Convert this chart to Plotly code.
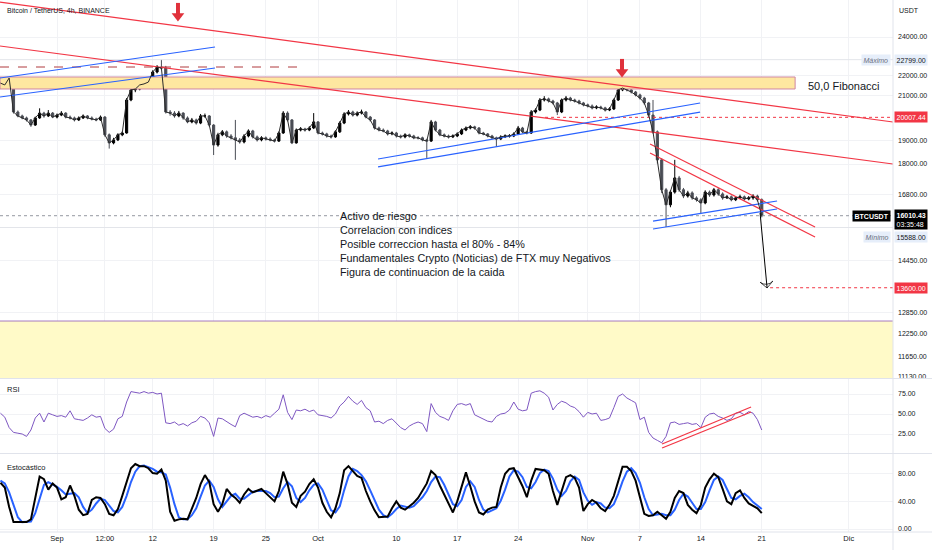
import numpy as np
import pandas as pd
import plotly.graph_objects as go

# ---------------- data (12h candles) ----------------
candle_start = "2022-08-25 12:00"

opens = [21550, 21620, 21530, 21870, 20250, 20070, 19980, 19890, 19660, 19980,
         20200, 20070, 20200, 20020, 20110, 20200, 20020, 19980, 19890, 19980,
         20070, 19980, 19930, 19890, 20020, 19230, 18880, 19010, 19230, 19310,
         20810, 21290, 21330, 21530, 21580, 21670, 22170, 22420, 22370, 20250,
         20200, 20070, 20200, 19980, 19800, 19890, 19750, 20070, 20070, 19660,
         18790, 19230, 19360, 19180, 19100, 19010, 18920, 19180, 19400, 19140,
         19010, 19100, 19050, 19010, 18960, 19310, 20200, 19890, 18880, 19440,
         19490, 19440, 19530, 19800, 19310, 19270, 19180, 19140, 19360, 19750,
         20160, 20250, 20110, 20200, 20250, 20020, 19890, 19530, 19440, 19400,
         19270, 19310, 19180, 19140, 19230, 19180, 19100, 19100, 19010, 18960,
         19800, 19440, 19230, 19180, 19140, 19180, 19270, 19440, 19530, 19580,
         19530, 19310, 19270, 19180, 19100, 19050, 19140, 19180, 19180, 19270,
         19530, 19360, 19310, 20250, 20340, 20810, 20860, 20760, 20670, 20250,
         20810, 20900, 20810, 20760, 20670, 20580, 20530, 20440, 20480, 20440,
         20340, 20390, 20810, 21290, 21380, 21290, 21190, 21050, 20900, 20670,
         20110, 19360, 18170, 16980, 16410, 16890, 17440, 16980, 16740, 16860,
         16670, 16600, 16480, 16890, 16780, 16980, 16820, 16670, 16710, 16600,
         16670, 16710, 16630, 16670, 16740, 16600]

closes = [21620, 21530, 21870, 20250, 20070, 19980, 19890, 19660, 19980, 20200,
          20070, 20200, 20020, 20110, 20200, 20020, 19980, 19890, 19980, 20070,
          19980, 19930, 19890, 20020, 19230, 18880, 19010, 19230, 19310, 20810,
          21290, 21330, 21530, 21580, 21670, 22170, 22420, 22370, 20250, 20200,
          20070, 20200, 19980, 19800, 19890, 19750, 20070, 20070, 19660, 18790,
          19230, 19360, 19180, 19100, 19010, 18920, 19180, 19400, 19140, 19010,
          19100, 19050, 19010, 18960, 19310, 20200, 19890, 18880, 19440, 19490,
          19440, 19530, 19800, 19310, 19270, 19180, 19140, 19360, 19750, 20160,
          20250, 20110, 20200, 20250, 20020, 19890, 19530, 19440, 19400, 19270,
          19310, 19180, 19140, 19230, 19180, 19100, 19100, 19010, 18960, 19800,
          19440, 19230, 19180, 19140, 19180, 19270, 19440, 19530, 19580, 19530,
          19310, 19270, 19180, 19100, 19050, 19140, 19180, 19180, 19270, 19530,
          19360, 19310, 20250, 20340, 20810, 20860, 20760, 20670, 20250, 20810,
          20900, 20810, 20760, 20670, 20580, 20530, 20440, 20480, 20440, 20340,
          20390, 20810, 21290, 21380, 21290, 21190, 21050, 20900, 20670, 20110,
          19360, 18170, 16980, 16410, 16890, 17440, 16980, 16740, 16860, 16670,
          16600, 16480, 16890, 16780, 16980, 16820, 16670, 16710, 16600, 16670,
          16710, 16630, 16670, 16740, 16600, 16010]

highs = [21700, 21680, 21920, 21880, 20320, 20130, 20040, 19930, 20040, 20420,
         20260, 20340, 20250, 20180, 20290, 20240, 20090, 20040, 20050, 20140,
         20110, 20050, 19990, 20090, 20060, 19290, 19100, 19300, 19380, 20900,
         21380, 21450, 21620, 21680, 21760, 22260, 22520, 22799, 22480, 20340,
         20290, 20300, 20240, 20050, 19980, 19950, 20160, 20180, 20110, 19700,
         19320, 19440, 19420, 19260, 19890, 19090, 19260, 19470, 19450, 19200,
         19170, 19160, 19120, 19060, 19380, 20290, 20280, 19930, 19510, 19570,
         19540, 19610, 20200, 19840, 19370, 19320, 19240, 19430, 19830, 20240,
         20340, 20310, 20280, 20360, 20290, 20070, 19930, 19590, 19510, 19450,
         19380, 19360, 19240, 19300, 19280, 19230, 19170, 19150, 19060, 19890,
         19850, 19490, 19290, 19240, 19250, 19340, 19510, 19600, 19660, 19630,
         19570, 19360, 19310, 19230, 19150, 19210, 19250, 19260, 19340, 19620,
         19580, 19410, 20340, 20420, 20900, 20990, 20920, 20820, 20720, 20880,
         21000, 20960, 20870, 20820, 20720, 20640, 20600, 20560, 20540, 20490,
         20470, 20880, 21370, 21480, 21440, 21340, 21240, 21110, 20960, 20720,
         20810, 19420, 18240, 17050, 16960, 18170, 17520, 17050, 16940, 16920,
         16730, 16660, 16960, 16950, 17050, 17040, 16880, 16780, 16760, 16740,
         16790, 16760, 16740, 16810, 16790, 16650]

lows = [21480, 21460, 21500, 20180, 20010, 19920, 19820, 19580, 19620, 19940,
        19990, 20020, 19970, 19960, 20060, 19960, 19910, 19820, 19840, 19930,
        19920, 19870, 19830, 19850, 19150, 18640, 18820, 18960, 19170, 19280,
        20750, 21180, 21270, 21440, 21500, 21620, 22100, 22280, 20180, 20080,
        19990, 20010, 19900, 19740, 19740, 19680, 19700, 19990, 19590, 18370,
        18720, 19170, 19100, 19030, 18170, 18850, 18860, 19120, 19070, 18940,
        18950, 18980, 18950, 18900, 18920, 19270, 19820, 18830, 18850, 19380,
        19370, 19390, 19480, 19250, 19200, 19110, 19070, 19100, 19310, 19700,
        20090, 20040, 20050, 20140, 19960, 19820, 19460, 19380, 19340, 19200,
        19210, 19110, 19070, 19080, 19110, 19040, 19030, 18950, 18250, 18920,
        19380, 19170, 19120, 19070, 19090, 19130, 19220, 19390, 19470, 19460,
        19250, 19210, 19120, 19040, 18710, 19000, 19090, 19110, 19130, 19230,
        19300, 19250, 19270, 20180, 20290, 20740, 20690, 20600, 20110, 20200,
        20740, 20740, 20690, 20600, 20510, 20460, 20370, 20380, 20370, 20270,
        20290, 20340, 20760, 21230, 21220, 21120, 20980, 20830, 20590, 20030,
        19280, 18020, 16850, 15588, 16320, 16830, 16900, 16660, 16680, 16600,
        16530, 16110, 16430, 16710, 16720, 16750, 16600, 16630, 16540, 16550,
        16620, 16570, 16580, 16600, 16530, 15950]

rsi = [51, 46, 33, 27, 26, 25, 22, 30, 45, 51,
       40, 51, 49, 47, 48, 46, 54, 44, 43, 42,
       45, 49, 46, 47, 32, 27, 31, 44, 47, 65,
       78, 77, 76, 78, 76, 77, 75, 76, 39, 38,
       40, 36, 38, 35, 39, 41, 47, 45, 39, 22,
       45, 44, 40, 37, 34, 48, 51, 48, 46, 47,
       45, 48, 46, 51, 56, 74, 52, 43, 55, 54,
       56, 53, 55, 49, 48, 47, 45, 50, 60, 65,
       72, 66, 62, 67, 58, 54, 40, 41, 38, 42,
       44, 39, 33, 30, 35, 38, 40, 38, 28, 63,
       52, 47, 45, 42, 54, 62, 63, 61, 63, 49,
       46, 43, 41, 40, 47, 50, 51, 55, 65, 56,
       54, 55, 76, 78, 79, 76, 71, 55, 62, 66,
       64, 60, 58, 53, 46, 52, 50, 51, 42, 43,
       45, 58, 72, 75, 70, 67, 64, 43, 46, 27,
       20, 17, 14, 22, 39, 40, 37, 38, 39, 37,
       38, 33, 46, 50, 51, 47, 45, 42, 44, 51,
       52, 49, 53, 51, 43, 30]

stoch_k = [67, 60, 32, 10, 10, 10, 10, 14, 45, 76,
           72, 57, 66, 60, 43, 46, 63, 48, 28, 20,
           22, 42, 46, 45, 36, 22, 20, 29, 48, 68,
           88, 94, 91, 91, 88, 81, 80, 86, 70, 25,
           12, 14, 15, 14, 30, 45, 65, 78, 68, 36,
           25, 36, 58, 50, 45, 38, 50, 58, 53, 55,
           58, 52, 46, 40, 55, 83, 65, 38, 32, 48,
           54, 65, 72, 60, 38, 25, 17, 30, 52, 85,
           91, 84, 77, 74, 55, 40, 27, 17, 17, 18,
           30, 40, 31, 28, 33, 38, 45, 55, 66, 84,
           78, 63, 50, 35, 24, 40, 62, 82, 62, 40,
           24, 21, 28, 31, 32, 60, 80, 87, 88, 75,
           62, 46, 70, 87, 86, 85, 80, 55, 35, 55,
           75, 78, 74, 60, 26, 36, 42, 38, 30, 26,
           35, 48, 70, 90, 90, 84, 70, 46, 22, 19,
           20, 25, 20, 15, 25, 45, 55, 52, 35, 28,
           23, 35, 60, 72, 80, 75, 58, 40, 36, 52,
           56, 45, 37, 34, 30, 23]

stoch_d = [70, 66, 53, 34, 17, 10, 10, 11, 23, 45,
           64, 68, 65, 61, 56, 50, 51, 52, 46, 32,
           23, 28, 37, 44, 42, 34, 26, 24, 32, 48,
           68, 83, 91, 92, 90, 87, 83, 82, 79, 60,
           36, 17, 14, 14, 20, 30, 47, 63, 70, 61,
           43, 32, 40, 48, 51, 44, 44, 49, 54, 55,
           55, 55, 52, 46, 47, 59, 68, 62, 45, 39,
           45, 56, 64, 66, 57, 41, 27, 24, 33, 56,
           76, 87, 84, 78, 69, 56, 41, 28, 20, 17,
           22, 29, 34, 33, 31, 33, 39, 46, 55, 68,
           76, 75, 64, 49, 36, 33, 42, 61, 69, 61,
           42, 28, 24, 27, 30, 41, 57, 76, 85, 83,
           75, 61, 59, 68, 81, 86, 84, 73, 57, 48,
           55, 69, 76, 71, 53, 41, 35, 39, 37, 31,
           30, 36, 51, 69, 83, 88, 81, 67, 46, 29,
           20, 21, 22, 20, 20, 28, 42, 51, 47, 38,
           29, 29, 39, 56, 71, 76, 71, 58, 45, 43,
           48, 51, 46, 39, 34, 29]

# drawings (date, price)
view_start, view_end = "2022-08-25 10:45", "2022-12-06 02:00"
red_a_prices = [25980, 19796]
red_b_prices = [23516, 18000]
tri_dates = ["2022-11-08 03:50", "2022-11-27 03:00"]
red_c_prices = [18835, 15605]
red_d_prices = [18454, 15257]
blue_a_dates = ["2022-08-25 10:45", "2022-09-19 03:50"]
blue_a1_prices = [21871, 23462]
blue_a2_prices = [20950, 22373]
blue_b_dates = ["2022-10-07 21:30", "2022-11-13 21:50"]
blue_b1_prices = [18204, 20667]
blue_b2_prices = [17882, 20248]
blue_c_dates = ["2022-11-08 12:00", "2022-11-22 18:15"]
blue_c1_prices = [15818, 16553]
blue_c2_prices = [15535, 16255]
rsi_line_dates = ["2022-11-09 13:00", "2022-11-19 18:30"]
rsi_line1 = [12.5, 58.75]
rsi_line2 = [7.5, 52.5]
fib_box_dates = ["2022-08-25 10:45", "2022-11-24 20:00"]
fib_box_prices = [21334, 21922]
zone_prices = [11000, 12612]
max_price, min_price, last_price = 22799.00, 15588.00, 16010.43
level_20007, level_13600, level_22423 = 20007.44, 13600.00, 22423
level_20007_start, level_13600_start, level_22423_end = "2022-10-27 02:10", "2022-11-21 23:00", "2022-09-28 22:20"
arrow_dates = ["2022-11-20 19:20", "2022-11-21 14:40"]
arrow_prices = [16114, 13592]
mark_dates = ["2022-09-14 21:40", "2022-11-04 22:30"]
mark_shaft_prices = [25600, 22550]
mark_head_prices = [25169, 22171]
note_lines = ["Activo de riesgo", "Correlacion con indices", "Posible correccion hasta el 80% - 84%",
              "Fundamentales Crypto (Noticias) de FTX muy Negativos", "Figura de continuacion de la caida"]
note_date, note_price = "2022-10-03 07:00", 16300
fib_label_date, fib_label_price = "2022-11-26 02:00", 21479

price_ticks = [24000, 22000, 21000, 19000, 18000, 16800, 14450, 12850, 12250, 11650, 11130]
rsi_ticks = [25, 50, 75]
stoch_ticks = [0, 40, 80]
x_tickvals = ["2022-09-01", "2022-09-06 12:00", "2022-09-12", "2022-09-19", "2022-09-25", "2022-10-01",
              "2022-10-10", "2022-10-17", "2022-10-24", "2022-11-01", "2022-11-07", "2022-11-14",
              "2022-11-21", "2022-12-01"]
x_ticktext = ["Sep", "12:00", "12", "19", "25", "Oct", "10", "17", "24", "Nov", "7", "14", "21", "Dic"]

# ---------------- figure ----------------
dates = pd.date_range(candle_start, periods=len(closes), freq="12h")
RED, BLUE, TXT = "#f23645", "#2962ff", "#131722"
FONT = "Liberation Sans"

fig = go.Figure()

# zones
fig.add_trace(go.Scatter(x=[view_start, view_end, view_end, view_start, view_start],
                         y=[zone_prices[0], zone_prices[0], zone_prices[1], zone_prices[1], zone_prices[0]],
                         fill="toself", fillcolor="#fffac8", line=dict(width=0),
                         mode="lines", hoverinfo="skip"))
fig.add_trace(go.Scatter(x=[view_start, view_end], y=[zone_prices[1], zone_prices[1]], mode="lines",
                         line=dict(color="#a77bc0", width=1), hoverinfo="skip"))
fig.add_trace(go.Scatter(x=[fib_box_dates[0], fib_box_dates[1], fib_box_dates[1], fib_box_dates[0], fib_box_dates[0]],
                         y=[fib_box_prices[0], fib_box_prices[0], fib_box_prices[1], fib_box_prices[1], fib_box_prices[0]],
                         fill="toself", fillcolor="#fee7a0", line=dict(color="#cf86a3", width=1),
                         mode="lines", hoverinfo="skip"))

def hline(x0, x1, y, color, dash="solid", width=1):
    fig.add_trace(go.Scatter(x=[x0, x1], y=[y, y], mode="lines",
                             line=dict(color=color, dash=dash, width=width), hoverinfo="skip"))

hline(view_start, view_end, max_price, "#e3e5ea")
hline(view_start, view_end, min_price, "#e3e5ea")
hline(view_start, view_end, last_price, "#9598a1", "dot")
hline(level_20007_start, view_end, level_20007, RED, "dot")
hline(level_13600_start, view_end, level_13600, RED, "dot")
hline(view_start, level_22423_end, level_22423, "#b03a3f", "dash")

def seg(xs, ys, color, yaxis="y", width=1.2):
    fig.add_trace(go.Scatter(x=xs, y=ys, mode="lines", line=dict(color=color, width=width),
                             yaxis=yaxis, hoverinfo="skip"))

seg([view_start, view_end], red_a_prices, RED)
seg([view_start, view_end], red_b_prices, RED)
seg(tri_dates, red_c_prices, RED)
seg(tri_dates, red_d_prices, RED)
seg(blue_a_dates, blue_a1_prices, BLUE)
seg(blue_a_dates, blue_a2_prices, BLUE)
seg(blue_b_dates, blue_b1_prices, BLUE)
seg(blue_b_dates, blue_b2_prices, BLUE)
seg(blue_c_dates, blue_c1_prices, BLUE)
seg(blue_c_dates, blue_c2_prices, BLUE)

# candles (with thin close path so the dense 4h look is kept)
fig.add_trace(go.Scatter(x=dates, y=closes, mode="lines", line=dict(color="#2b2b2b", width=1),
                         hoverinfo="skip"))
fig.add_trace(go.Candlestick(x=dates, open=opens, high=highs, low=lows, close=closes,
                             increasing=dict(line=dict(color="#000000", width=1), fillcolor="#000000"),
                             decreasing=dict(line=dict(color="#4a4d55", width=1), fillcolor="#4a4d55"),
                             whiskerwidth=0, hoverinfo="skip"))

# black projection arrow
fig.add_trace(go.Scatter(x=arrow_dates, y=arrow_prices, mode="lines+markers",
                         line=dict(color="#000000", width=1),
                         marker=dict(symbol="arrow-wide-open", size=[0, 9], angleref="previous",
                                     color="#000000", line=dict(color="#000000", width=1)),
                         hoverinfo="skip"))
# red marker arrows
fig.add_trace(go.Scatter(x=mark_dates, y=mark_shaft_prices, mode="markers",
                         marker=dict(symbol="line-ns", size=8, line=dict(color="#e0313b", width=4)),
                         hoverinfo="skip"))
fig.add_trace(go.Scatter(x=mark_dates, y=mark_head_prices, mode="markers",
                         marker=dict(symbol="triangle-down", size=11, color="#e0313b"),
                         hoverinfo="skip"))

# RSI
fig.add_trace(go.Scatter(x=dates, y=rsi, mode="lines", line=dict(color="#7e57c2", width=1),
                         yaxis="y2", hoverinfo="skip"))
seg(rsi_line_dates, rsi_line1, RED, "y2", 1.3)
seg(rsi_line_dates, rsi_line2, RED, "y2", 1.3)

# Stochastic
fig.add_trace(go.Scatter(x=dates, y=stoch_d, mode="lines", line=dict(color=BLUE, width=2),
                         yaxis="y3", hoverinfo="skip"))
fig.add_trace(go.Scatter(x=dates, y=stoch_k, mode="lines", line=dict(color="#000000", width=2),
                         yaxis="y3", hoverinfo="skip"))

# ---------------- layout ----------------
PH = 532.0  # plot height in px
def py(px):
    return (PH - px) / PH

tickfont = dict(family=FONT, size=7, color=TXT)
grid = "#f1f2f5"

annotations = []
def tag(price, text, bg, fg, yshift=0, yanchor="middle"):
    annotations.append(dict(xref="paper", x=1, xanchor="left", xshift=1, yref="y",
                            y=np.log10(price), yanchor=yanchor, yshift=yshift, text=text,
                            showarrow=False, bgcolor=bg, borderpad=1.5,
                            font=dict(family=FONT, size=7, color=fg), align="left"))

tag(max_price, f"{max_price:.2f}", "#e6eefa", TXT)
tag(level_20007, f"{level_20007:.2f}", RED, "#ffffff")
tag(last_price, f"<b>{last_price:.2f}</b><br>03:35:48", "#000000", "#ffffff", yshift=7, yanchor="top")
tag(min_price, f"{min_price:.2f}", "#e6eefa", TXT, yshift=-9)
tag(level_13600, f"{level_13600:.2f}", RED, "#ffffff")

def side_label(price, text, bg, fg, yshift=0):
    annotations.append(dict(xref="paper", x=891 / 893, xanchor="right", yref="y",
                            y=np.log10(price), yanchor="middle", yshift=yshift, text=text,
                            showarrow=False, bgcolor=bg, borderpad=1.5,
                            font=dict(family=FONT, size=7, color=fg)))

side_label(max_price, "<i>Máximo</i>", "#e6eefa", "#6b7080")
side_label(last_price, "<b>BTCUSDT</b>", "#000000", "#ffffff")
side_label(min_price, "<i>Mínimo</i>", "#e6eefa", "#6b7080", yshift=-9)

annotations += [
    dict(xref="paper", x=5 / 893, xanchor="left", yref="paper", y=py(10), yanchor="middle",
         text="Bitcoin / TetherUS, 4h, BINANCE", showarrow=False,
         font=dict(family=FONT, size=7, color=TXT)),
    dict(xref="paper", x=1, xanchor="left", xshift=4, yref="paper", y=py(10), yanchor="middle",
         text="USDT", showarrow=False, font=dict(family=FONT, size=7, color=TXT)),
    dict(xref="paper", x=5 / 893, xanchor="left", yref="paper", y=py(390), yanchor="middle",
         text="RSI", showarrow=False, font=dict(family=FONT, size=7.5, color=TXT)),
    dict(xref="paper", x=5 / 893, xanchor="left", yref="paper", y=py(467), yanchor="middle",
         text="Estocástico", showarrow=False, font=dict(family=FONT, size=7.5, color=TXT)),
    dict(xref="x", x=note_date, xanchor="left", yref="y", y=np.log10(note_price), yanchor="top",
         text="<br>".join(note_lines), showarrow=False, align="left",
         font=dict(family=FONT, size=10.8, color=TXT)),
    dict(xref="x", x=fib_label_date, xanchor="left", yref="y", y=np.log10(fib_label_price),
         yanchor="middle", text="50,0 Fibonacci", showarrow=False,
         font=dict(family=FONT, size=11, color=TXT)),
]

sep = "#e0e3eb"
shapes = [
    dict(type="line", xref="paper", yref="paper", x0=0, x1=932 / 893, y0=py(378.5), y1=py(378.5),
         line=dict(color=sep, width=1)),
    dict(type="line", xref="paper", yref="paper", x0=0, x1=932 / 893, y0=py(453.5), y1=py(453.5),
         line=dict(color=sep, width=1)),
    dict(type="line", xref="paper", yref="paper", x0=0, x1=932 / 893, y0=0, y1=0,
         line=dict(color=sep, width=1)),
    dict(type="line", xref="paper", yref="paper", x0=1, x1=1, y0=-18 / PH, y1=1,
         line=dict(color=sep, width=1)),
]

fig.update_layout(
    width=932, height=550,
    margin=dict(l=0, r=39, t=0, b=18, pad=0),
    paper_bgcolor="#ffffff", plot_bgcolor="#ffffff",
    showlegend=False,
    font=dict(family=FONT, size=7, color=TXT),
    xaxis=dict(type="date", range=[view_start, view_end], anchor="y3",
               tickvals=x_tickvals, ticktext=x_ticktext, tickfont=dict(family=FONT, size=7.5, color=TXT),
               showgrid=True, gridcolor=grid, zeroline=False, showline=False, ticks="",
               rangeslider=dict(visible=False)),
    yaxis=dict(domain=[py(378), 1], type="log", range=[np.log10(11085), np.log10(26099)],
               side="right", anchor="x", tickvals=price_ticks,
               ticktext=[f"{v:.2f}" for v in price_ticks], tickfont=tickfont, ticklabelstandoff=4,
               showgrid=True, gridcolor=grid, zeroline=False, ticks=""),
    yaxis2=dict(domain=[py(453), py(379)], range=[1.25, 93.75], side="right", anchor="x",
                tickvals=rsi_ticks, ticktext=[f"{v:.2f}" for v in rsi_ticks], tickfont=tickfont,
                ticklabelstandoff=4, showgrid=True, gridcolor=grid, zeroline=False, ticks=""),
    yaxis3=dict(domain=[0, py(454)], range=[-4.29, 108.57], side="right", anchor="x",
                tickvals=stoch_ticks, ticktext=[f"{v:.2f}" for v in stoch_ticks], tickfont=tickfont,
                ticklabelstandoff=4, showgrid=True, gridcolor=grid, zeroline=False, ticks=""),
    annotations=annotations,
    shapes=shapes,
)

fig.write_html("out.html", config={"displayModeBar": False})

# remove the browser's default 8px page margin so the figure sits at the window origin
with open("out.html", "r", encoding="utf-8") as f:
    html = f.read()
html = html.replace("<body>", '<body style="margin:0;padding:0;overflow:hidden">', 1)
with open("out.html", "w", encoding="utf-8") as f:
    f.write(html)
